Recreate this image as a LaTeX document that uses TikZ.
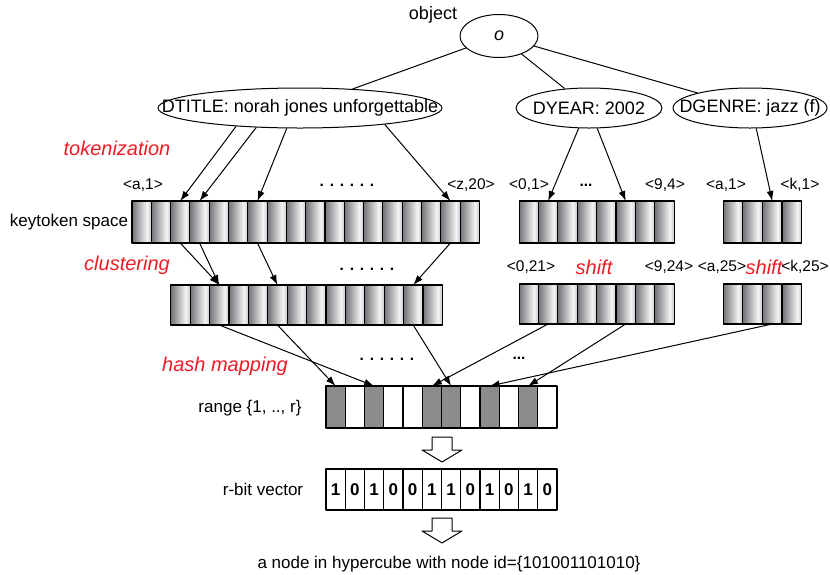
\documentclass[tikz,border=0pt]{standalone}
\usepackage{fontspec}
\setmainfont{Liberation Sans}
\usetikzlibrary{shapes.geometric,arrows.meta,positioning}
\definecolor{phasered}{RGB}{237,28,36}
\definecolor{celldark}{RGB}{115,115,119}
\definecolor{celllight}{RGB}{244,244,246}
\definecolor{cellrim}{RGB}{200,200,204}
\pgfdeclarehorizontalshading{cellgrad}{100bp}{color(0bp)=(celldark); color(25bp)=(celldark); color(64bp)=(celllight); color(75bp)=(cellrim); color(100bp)=(cellrim)}
\tikzset{
  attr/.style={draw, ellipse, line width=1pt, minimum height=40pt, inner sep=0pt, font=\fontsize{18}{21}\selectfont},
  cell/.style={draw, line width=1.1pt, shade, shading=cellgrad, minimum width=19.3pt, minimum height=42pt, inner sep=0pt, outer sep=0pt},
  slot/.style={draw, line width=1.1pt, minimum width=19.25pt, minimum height=42pt, inner sep=0pt, outer sep=0pt},
  tag/.style={font=\fontsize{15.5}{18}\selectfont},
  phase/.style={text=phasered, font=\fontsize{20}{24}\selectfont\itshape},
}
\begin{document}
\begin{tikzpicture}[x=1pt, y=-1pt, >={Latex[length=10pt,width=7pt]}, line join=round, line width=1pt, font=\fontsize{17}{20}\selectfont]
\useasboundingbox (0,0) rectangle (830,574);
% object and its attributes
\node[attr, minimum width=78pt, minimum height=43pt] (obj) at (499,36) {\makebox[0pt]{\textit{o}}};
\node[font=\fontsize{18}{21}\selectfont] (objname) at (433,15) {object};
\node[attr, minimum width=284pt] (title) at (300,108) {\makebox[0pt]{DTITLE: norah jones unforgettable}};
\node[attr, minimum width=146pt] (year) at (589,108) {\makebox[0pt]{DYEAR: 2002}};
\node[attr, minimum width=154pt] (genre) at (750,108) {\makebox[0pt]{DGENRE: jazz (f)}};
\draw (obj) -- (title);
\draw (obj) -- (year);
\draw (obj) -- (genre);
% keytoken space
\foreach \i in {1,...,18} \node[cell] (k\i) at ({132+19.3*(\i-0.5)},222) {};
\foreach \i in {1,...,8} \node[cell] (ky\i) at ({519+19.4*(\i-0.5)},222) {};
\foreach \i in {1,...,4} \node[cell] (kg\i) at ({723+19.7*(\i-0.5)},222) {};
\node (kspace) at (69,222) {keytoken space};
\node[tag] (ka) at (143,185) {<a,1>};
\node[tag] (kdots) at (347,185) {\textbf{. . . . . .}};
\node[tag] (kz) at (471,185) {<z,20>};
\node[tag] (y0) at (529,185) {<0,1>};
\node[tag] (ydots) at (586,185) {\textbf{...}};
\node[tag] (y9) at (665,185) {<9,4>};
\node[tag] (ga) at (726,185) {<a,1>};
\node[tag] (gk) at (800,185) {<k,1>};
% clusters
\foreach \i in {1,...,14} \node[cell, minimum height=40pt] (c\i) at ({170.7+19.4*(\i-0.5)},305) {};
\foreach \i in {1,...,8} \node[cell, minimum height=40pt] (cy\i) at ({519+19.4*(\i-0.5)},304) {};
\foreach \i in {1,...,4} \node[cell, minimum height=40pt] (cg\i) at ({723+19.7*(\i-0.5)},304) {};
\node[tag] (cdots) at (367,269) {\textbf{. . . . . .}};
\node[tag] (cy0) at (531,267) {<0,21>};
\node[phase] (shifty) at (594,267) {shift};
\node[tag] (cy9) at (669,267) {<9,24>};
\node[tag] (cga) at (722,267) {<a,25>};
\node[phase] (shiftg) at (764,267) {shift};
\node[tag] (cgk) at (805,267) {<k,25>};
% range and bit vector
\foreach \b [count=\i] in {1,0,1,0,0,1,1,0,1,0,1,0} {
  \pgfmathtruncatemacro\amt{45*\b}
  \node[slot, fill=black!\amt] (r\i) at ({326+19.25*(\i-0.5)},407) {};
  \node[slot, minimum height=41pt] (b\i) at ({326+19.25*(\i-0.5)},489.5) {\textbf{\b}};
}
\node[tag] (hdots) at (387,359) {\textbf{. . . . . .}};
\node[tag] (hdots2) at (519,358) {\textbf{...}};
\node (rangename) at (250,408) {range \{1, .., r\}};
\node (bitname) at (263,489) {r-bit vector};
\node (nodeid) at (449,564) {a node in hypercube with node id=\{101001101010\}};
% steps
\node[phase] (tok) at (117,148) {tokenization};
\node[phase] (clu) at (127,265) {clustering};
\node[phase] (hash) at (225,366) {hash mapping};
% tokenization
\draw[->] (title.196) -- (k3.north);
\draw[->] (title.204) -- (k4.north);
\draw[->] (title.237) -- (k7.north);
\draw[->] (title.349) -- (k17.north);
\draw[->] (year.243) -- (ky2.north);
\draw[->] (year.292) -- (ky6.north);
\draw[->] (genre.287) -- (kg3.north);
% clustering
\foreach \from/\to in {k3/c3,k4/c3,k7/c6,k17/c13}
  \draw[->] (\from.south) -- (\to.north);
% hash mapping
\foreach \from/\to in {c3/r3,c6/r1,c13/r7,cy2/r6,cy6/r11,cg3/r9}
  \draw[->] (\from.south) -- (\to.north);
% hollow arrows
\foreach \y in {437,518}
  \draw[fill=white] (432,\y) -- (452,\y) -- (452,\y+13) -- (462,\y+13) -- (442,\y+25) -- (422,\y+13) -- (432,\y+13) -- cycle;
\end{tikzpicture}
\end{document}
